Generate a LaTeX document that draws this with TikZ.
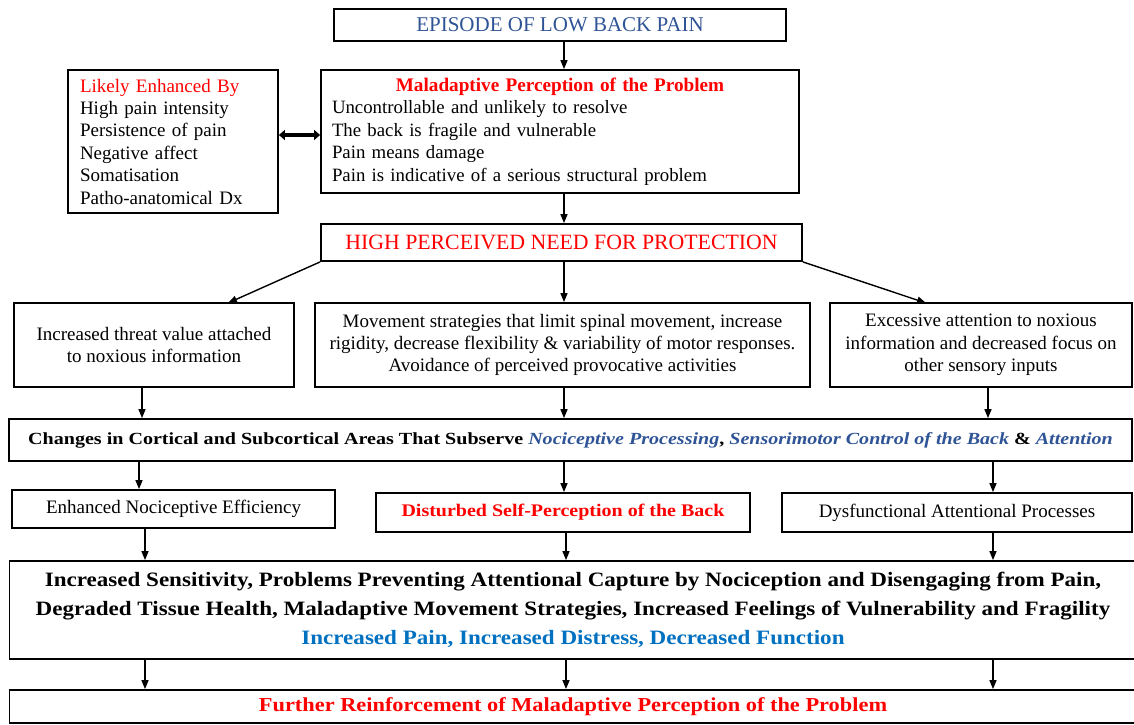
\documentclass[tikz,border=0pt]{standalone}
\usepackage{fontspec}
\setmainfont{Liberation Serif}
\newfontfamily\wideA[FakeStretch=1.18]{Liberation Serif}
\newfontfamily\wideB[FakeStretch=1.13]{Liberation Serif}
\usetikzlibrary{arrows.meta}
\definecolor{epblue}{HTML}{2F5496}
\definecolor{ltblue}{HTML}{0070C0}
\definecolor{myred}{HTML}{FF0000}
\tikzset{
  box/.style={draw, line width=1.8pt, inner sep=0pt, align=center},
  arr/.style={-{Triangle[length=9pt,width=7pt]}, line width=1.4pt},
  dbl/.style={{Triangle[length=6pt,width=10pt]}-{Triangle[length=6pt,width=10pt]}, line width=3.4pt},
  fbody/.style={font=\fontsize{19}{22.4}\selectfont},
}
\begin{document}
\begin{tikzpicture}[x=1pt,y=-1pt]
\useasboundingbox (0,0) rectangle (1134,724);
\clip (0,0) rectangle (1134,724);
% top
\node[box, minimum width=452pt, minimum height=32pt, font=\fontsize{21}{22}\selectfont, text=epblue] (ep) at (560,25) {EPISODE OF LOW BACK PAIN};
\node[box, minimum width=210pt, minimum height=143pt, fbody, text width=186pt, align=left] (lk) at (173,141.5)
 {\textcolor{myred}{Likely Enhanced By}\\High pain intensity\\Persistence of pain\\Negative affect\\Somatisation\\Patho-anatomical Dx};
\node[box, minimum width=478pt, minimum height=123pt, font=\fontsize{18.8}{22.6}\selectfont, text width=456pt, align=left] (mal) at (560,131.5)
 {\makebox[456pt][c]{\textcolor{myred}{\fontsize{19.2}{22.6}\selectfont\bfseries Maladaptive Perception of the Problem}}\\Uncontrollable and unlikely to resolve\\The back is fragile and vulnerable\\Pain means damage\\Pain is indicative of a serious structural problem};
\node[box, minimum width=481pt, minimum height=37pt, font=\fontsize{21.8}{22}\selectfont, text=myred] (high) at (561.5,242.5) {HIGH PERCEIVED NEED FOR PROTECTION};
% row 3
\node[box, minimum width=280pt, minimum height=84pt, fbody] (ta) at (154,345) {Increased threat value attached\\to noxious information};
\node[box, minimum width=495pt, minimum height=84pt, fbody] (tb) at (562.5,345) {Movement strategies that limit spinal movement, increase\\rigidity, decrease flexibility \& variability of motor responses.\\Avoidance of perceived provocative activities};
\node[box, minimum width=302pt, minimum height=84pt, fbody] (tc) at (981,345) {Excessive attention to noxious\\information and decreased focus on\\other sensory inputs};
% changes
\node[box, minimum width=1123pt, minimum height=42pt, font=\wideA\fontsize{17}{22}\selectfont\bfseries] (ch) at (570.5,440)
 {Changes in Cortical and Subcortical Areas That Subserve \textcolor{epblue}{\itshape Nociceptive Processing}, \textcolor{epblue}{\itshape Sensorimotor Control of the Back} \& \textcolor{epblue}{\itshape Attention}};
% small boxes
\node[box, minimum width=323pt, minimum height=38pt, fbody] (sa) at (173.5,509) {Enhanced Nociceptive Efficiency};
\node[box, minimum width=374pt, minimum height=39pt, font=\wideB\fontsize{17.7}{22.4}\selectfont\bfseries, text=myred] (sb) at (563,512.5) {Disturbed Self-Perception of the Back};
\node[box, minimum width=350pt, minimum height=39pt, fbody] (sc) at (957,512.5) {Dysfunctional Attentional Processes};
% big
\node[box, minimum width=1127pt, minimum height=98pt, font=\wideB\fontsize{20.4}{29}\selectfont\bfseries] (big) at (573,610)
 {Increased Sensitivity, Problems Preventing Attentional Capture by Nociception and Disengaging from Pain,\\Degraded Tissue Health, Maladaptive Movement Strategies, Increased Feelings of Vulnerability and Fragility\\\textcolor{ltblue}{Increased Pain, Increased Distress, Decreased Function}};
\node[box, minimum width=1127pt, minimum height=33pt, font=\wideB\fontsize{19.8}{24}\selectfont\bfseries, text=myred] (fin) at (573,706.5) {Further Reinforcement of Maladaptive Perception of the Problem};
% column coordinates
\coordinate (c1) at (142,0);
\coordinate (c2) at (564,0);
\coordinate (c3) at (988,0);
\coordinate (d1) at (139,0);
\coordinate (d3) at (993,0);
\coordinate (e1) at (145,0);
\coordinate (e2) at (566,0);
\coordinate (yd) at (0,135);
\coordinate (tal) at (228,303);
\coordinate (tcr) at (926,303);
% connectors
\draw[arr] (ep.south -| c2) -- (mal.north -| c2);
\draw[arr] (mal.south -| c2) -- (high.north -| c2);
\draw[dbl] (lk.east |- yd) -- (mal.west |- yd);
\draw[arr] (high.south -| c2) -- (tb.north -| c2);
\draw[arr] (high.south west) -- (tal);
\draw[arr] (high.south east) -- (tcr);
\draw[arr] (ta.south -| c1) -- (ch.north -| c1);
\draw[arr] (tb.south -| c2) -- (ch.north -| c2);
\draw[arr] (tc.south -| c3) -- (ch.north -| c3);
\draw[arr] (ch.south -| d1) -- (sa.north -| d1);
\draw[arr] (ch.south -| c2) -- (sb.north -| c2);
\draw[arr] (ch.south -| d3) -- (sc.north -| d3);
\draw[arr] (sa.south -| e1) -- (big.north -| e1);
\draw[arr] (sb.south -| e2) -- (big.north -| e2);
\draw[arr] (sc.south -| d3) -- (big.north -| d3);
\draw[arr] (big.south -| e1) -- (fin.north -| e1);
\draw[arr] (big.south -| e2) -- (fin.north -| e2);
\draw[arr] (big.south -| d3) -- (fin.north -| d3);
\end{tikzpicture}
\end{document}
